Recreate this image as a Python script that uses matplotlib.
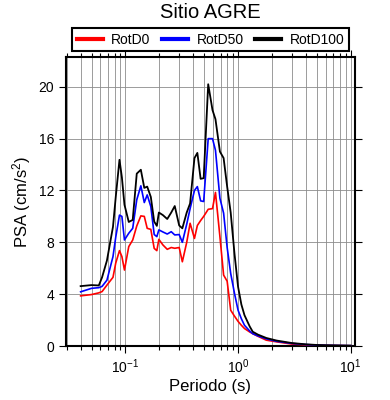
import numpy as np
import matplotlib.pyplot as plt
from matplotlib.ticker import LogLocator, MultipleLocator, NullFormatter

plt.rcParams['font.family'] = ['Liberation Sans', 'DejaVu Sans']
plt.rcParams['mathtext.fontset'] = 'custom'
plt.rcParams['mathtext.rm'] = 'Liberation Sans'
plt.rcParams['mathtext.it'] = 'Liberation Sans:italic'

# periodos (s) y ordenadas espectrales (cm/s^2)
periodo = [0.04, 0.05, 0.058, 0.062, 0.0685, 0.0775, 0.082, 0.0885, 0.093, 0.098,
           0.107, 0.116, 0.126, 0.137, 0.147, 0.156, 0.168, 0.18, 0.19, 0.198,
           0.215, 0.235, 0.255, 0.274, 0.30, 0.32, 0.35, 0.375, 0.41, 0.435,
           0.465, 0.495, 0.543, 0.593, 0.63, 0.69, 0.744, 0.80, 0.86, 0.93,
           1.0, 1.07, 1.14, 1.27, 1.35, 1.5, 1.78, 2.2, 3.0, 4.0,
           5.0, 6.0, 8.0, 10.0]
rotd0 = [3.87, 3.97, 4.1, 4.2, 4.7, 5.3, 6.4, 7.36, 6.9, 5.86,
         7.67, 8.18, 9.26, 10.04, 10.0, 9.08, 9.0, 7.53, 7.36, 8.23,
         7.8, 7.46, 7.6, 7.54, 7.6, 6.5, 8.0, 9.47, 8.3, 9.3,
         9.68, 10.0, 10.55, 10.6, 11.85, 8.44, 5.47, 5.0, 2.76, 2.3,
         1.9, 1.6, 1.35, 1.08, 0.95, 0.75, 0.45, 0.32, 0.15, 0.09,
         0.06, 0.045, 0.03, 0.02]
rotd50 = [4.18, 4.45, 4.5, 4.6, 5.08, 6.9, 8.4, 10.1, 10.0, 8.18,
          8.7, 9.08, 11.28, 12.36, 11.07, 11.66, 10.76, 8.6, 8.44, 8.96,
          8.8, 8.64, 8.82, 8.57, 8.6, 8.0, 9.4, 10.6, 12.0, 12.3,
          11.2, 11.15, 16.0, 16.0, 15.1, 11.4, 10.25, 7.6, 5.6, 4.05,
          2.76, 2.1, 1.6, 1.15, 0.95, 0.78, 0.55, 0.36, 0.2, 0.11,
          0.07, 0.05, 0.035, 0.025]
rotd100 = [4.62, 4.7, 4.67, 5.3, 6.6, 9.2, 11.5, 14.37, 13.0, 10.9,
           9.57, 9.73, 13.3, 13.6, 12.2, 12.3, 11.5, 9.6, 9.27, 10.3,
           10.1, 9.8, 10.3, 10.8, 9.3, 9.08, 10.3, 11.0, 14.5, 14.9,
           12.9, 12.95, 20.2, 18.2, 17.5, 15.0, 14.5, 12.3, 10.3, 7.1,
           4.57, 3.2, 2.38, 1.5, 1.1, 0.88, 0.62, 0.42, 0.23, 0.13,
           0.08, 0.06, 0.04, 0.03]

fig = plt.figure(figsize=(3.9, 4.0), dpi=100)
ax = fig.add_axes([0.169, 0.135, 0.741, 0.7225])

ax.plot(periodo, rotd0, color='red', lw=1.2, label='RotD0', zorder=3)
ax.plot(periodo, rotd50, color='blue', lw=1.2, label='RotD50', zorder=4)
ax.plot(periodo, rotd100, color='black', lw=1.3, label='RotD100', zorder=5)

ax.set_xscale('log')
ax.set_xlim(0.0296, 10.9)
ax.set_ylim(0, 22.3)
ax.xaxis.set_major_locator(LogLocator(base=10, numticks=10))
ax.xaxis.set_minor_locator(LogLocator(base=10, subs=np.arange(2, 10), numticks=20))
ax.xaxis.set_minor_formatter(NullFormatter())
ax.yaxis.set_major_locator(MultipleLocator(4))

ax.grid(True, which='both', axis='x', color='#8c8c8c', lw=0.6)
ax.grid(True, which='major', axis='y', color='#8c8c8c', lw=0.6)

for s in ax.spines.values():
    s.set_linewidth(1.5)
ax.tick_params(which='both', direction='out', top=True, right=True, labelsize=10, width=0.8)
ax.tick_params(which='major', length=5)
ax.tick_params(which='minor', length=3)

ax.set_xlabel('Periodo (s)', fontsize=12, labelpad=2)
ax.set_ylabel('PSA (cm/s$^2$)', fontsize=12, labelpad=4)

fig.text(0.538, 0.969, 'Sitio AGRE', ha='center', va='center', fontsize=14.5)

leg = fig.legend(loc='center', bbox_to_anchor=(0.5395, 0.901), ncol=3,
                 fontsize=10, fancybox=False, edgecolor='black',
                 handlelength=1.9, handletextpad=0.6, borderpad=0.35,
                 columnspacing=0.8, borderaxespad=0, framealpha=1)
leg.get_frame().set_linewidth(1.5)
for h in leg.get_lines():
    h.set_linewidth(3)

fig.savefig('out.png', dpi=100)
